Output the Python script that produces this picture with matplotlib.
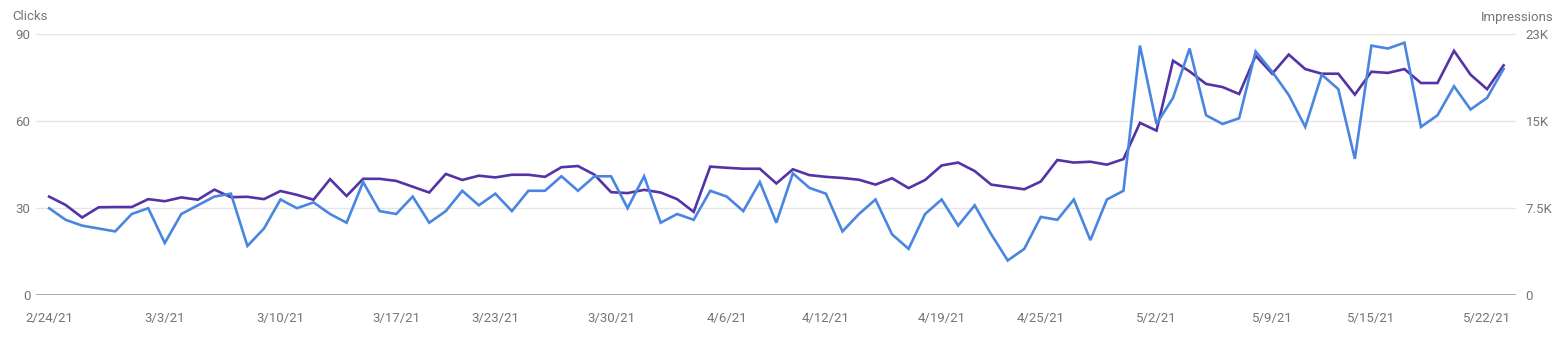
import matplotlib
matplotlib.use('Agg')
import matplotlib.pyplot as plt
import pandas as pd

plt.rcParams['font.family'] = ['Roboto', 'DejaVu Sans']

dates = pd.date_range('2021-02-24', '2021-05-23', freq='D')

clicks = [30, 26, 24, 23, 22, 28, 30, 18, 28, 31, 34, 35, 17, 23, 33, 30, 32, 28, 25, 39, 29, 28,
          34, 25, 29, 36, 31, 35, 29, 36, 36, 41, 36,
          41, 41, 30, 41, 25, 28, 26, 36, 34, 29, 39,
          25, 42, 37, 35, 22, 28, 33, 21, 16, 28, 33,
          24, 31, 21, 12, 16, 27, 26, 33, 19, 33, 36,
          86, 59, 68, 85, 62, 59, 61, 84, 77, 69, 58,
          76, 71, 47, 86, 85, 87, 58, 62, 72, 64, 68, 78]

impressions = [8500, 7780, 6700, 7580, 7600, 7600, 8280, 8100, 8430, 8230, 9100, 8450, 8480, 8280,
               8980, 8650, 8230, 10000, 8550, 10030, 10030, 9850,
               9350, 8850, 10450, 9930, 10300, 10150, 10380, 10380, 10200, 11030, 11130,
               10380, 8880, 8800, 9080, 8850, 8280, 7180, 11080, 10980, 10900, 10900,
               9630, 10850, 10350, 10200, 10100, 9950, 9530, 10080, 9230, 9930, 11180,
               11430, 10700, 9530, 9330, 9130, 9800, 11650, 11430, 11500, 11250, 11730,
               14850, 14180, 20200, 19280, 18200, 17930, 17330, 20630, 19080, 20730, 19480,
               19080, 19080, 17280, 19250, 19150, 19480, 18280, 18280, 21050, 19000, 17750, 19800]

tick_dates = ['2021-02-24', '2021-03-03', '2021-03-10', '2021-03-17', '2021-03-23', '2021-03-30',
              '2021-04-06', '2021-04-12', '2021-04-19', '2021-04-25', '2021-05-02', '2021-05-09',
              '2021-05-15', '2021-05-22']
tick_labels = ['2/24/21', '3/3/21', '3/10/21', '3/17/21', '3/23/21', '3/30/21', '4/6/21',
               '4/12/21', '4/19/21', '4/25/21', '5/2/21', '5/9/21', '5/15/21', '5/22/21']

left_ticks = [0, 30, 60, 90]
right_ticks = [0, 7500, 15000, 22500]
right_labels = ['0', '7.5K', '15K', '23K']

W, H = 1565, 342
fig = plt.figure(figsize=(W / 100, H / 100), dpi=100)
fig.patch.set_facecolor('white')
x0, x1, ytop, ybot = 36, 1516, 34, 295.3
ax2 = fig.add_axes([x0 / W, (H - ybot) / H, (x1 - x0) / W, (ybot - ytop) / H])
ax = fig.add_axes(ax2.get_position(), sharex=ax2)
ax.patch.set_visible(False)

CLICK_C = '#4a86e0'
IMPR_C = '#5433a6'
TEXT_C = '#757575'

ax2.plot(dates, impressions, color=IMPR_C, lw=1.9, solid_joinstyle='miter')
ax.plot(dates, clicks, color=CLICK_C, lw=1.9, solid_joinstyle='miter')

ax2.set_ylim(0, 22500)
ax.set_ylim(0, 90)
ax2.set_xlim(dates[0] - pd.Timedelta(hours=19), dates[-1] + pd.Timedelta(hours=18))

for a in (ax, ax2):
    for s in a.spines.values():
        s.set_visible(False)
    a.tick_params(length=0, colors=TEXT_C, labelsize=9.5)

ax2.set_yticks(right_ticks)
ax2.set_yticklabels(right_labels)
ax2.yaxis.tick_right()
ax2.tick_params(axis='y', pad=7)
ax2.grid(axis='y', color='#e6e6e6', lw=1)
ax2.axhline(0, color='#9e9e9e', lw=1.2)

ax.set_yticks(left_ticks)
ax.set_yticklabels([str(v) for v in left_ticks])
ax.yaxis.tick_left()
ax.tick_params(axis='y', pad=4)

ax2.set_xticks(pd.to_datetime(tick_dates))
ax2.set_xticklabels(tick_labels)
ax2.tick_params(axis='x', pad=12)
ax.tick_params(axis='x', labelbottom=False)

fig.text(12 / W, 1 - 17 / H, 'Clicks', color=TEXT_C, fontsize=9.5, ha='left', va='center')
fig.text(1554 / W, 1 - 17 / H, 'Impressions', color=TEXT_C, fontsize=9.5, ha='right', va='center')

fig.savefig('out.png', dpi=100, facecolor='white')
